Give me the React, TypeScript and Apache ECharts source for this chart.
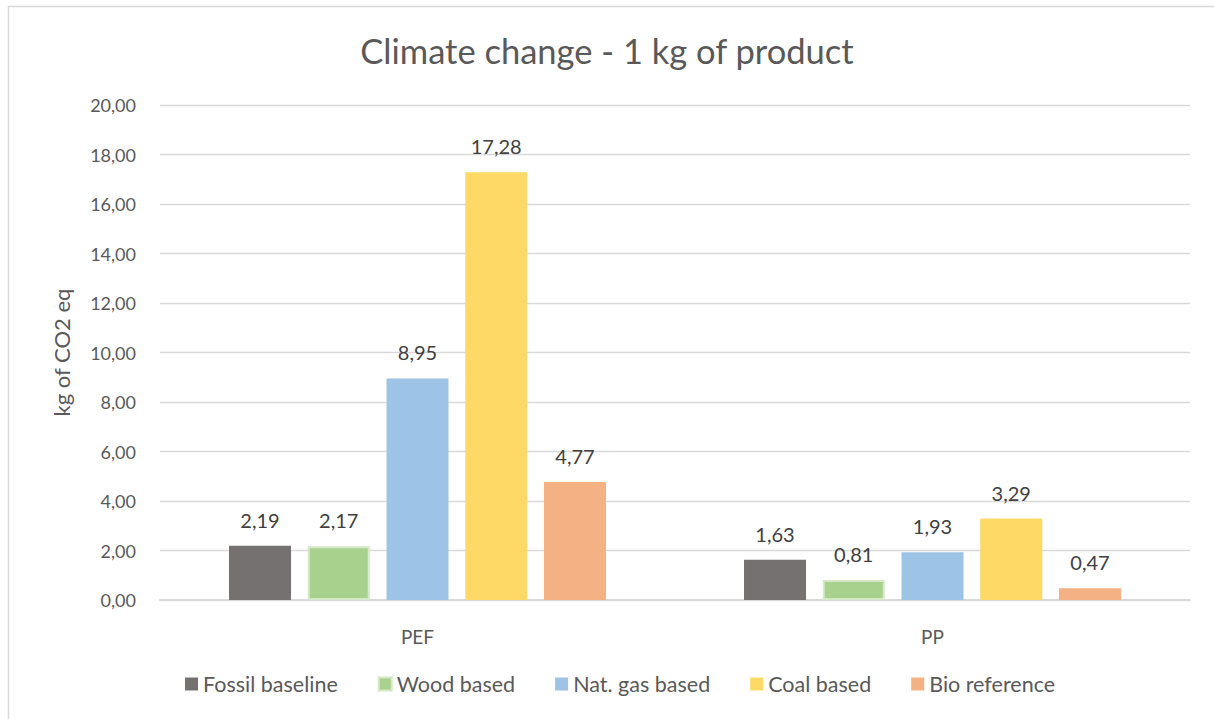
import React, { useEffect, useRef } from "react";
import * as echarts from "echarts";

const categories = ["PEF", "PP"];
const seriesNames = ["Fossil baseline", "Wood based", "Nat. gas based", "Coal based", "Bio reference"];
const fossilBaseline = [2.19, 1.63];
const woodBased = [2.17, 0.81];
const natGasBased = [8.95, 1.93];
const coalBased = [17.28, 3.29];
const bioReference = [4.77, 0.47];
const colors = ["#767171", "#A9D18E", "#9DC3E6", "#FFD966", "#F4B183"];
const borderColors = ["#767171", "#D5E8C8", "#9DC3E6", "#FFD966", "#F4B183"];

const FONT = "Lato, 'Open Sans', sans-serif";
const fmt = (v: number) => v.toFixed(2).replace(".", ",");

export default function App() {
  const ref = useRef<HTMLDivElement>(null);
  useEffect(() => {
    if (!ref.current) return;
    const chart = echarts.init(ref.current, undefined, { renderer: "svg" });
    const values = [fossilBaseline, woodBased, natGasBased, coalBased, bioReference];
    chart.setOption({
      animation: false,
      backgroundColor: "#ffffff",
      title: {
        text: "Climate change - 1 kg of product",
        left: "center",
        top: 28,
        textStyle: { fontFamily: FONT, fontSize: 34.5, fontWeight: "normal", color: "#595959" },
      },
      legend: {
        bottom: 19,
        left: 180,
        itemWidth: 13,
        itemHeight: 13,
        itemGap: 40,
        icon: "rect",
        textStyle: { fontFamily: FONT, fontSize: 21.5, color: "#595959" },
        data: seriesNames,
      },
      grid: { left: 160, right: 24, top: 105, bottom: 119, containLabel: false },
      graphic: [
        {
          type: "rect",
          shape: { x: 8.5, y: 6.5, width: 1400, height: 900 },
          style: { fill: "none", stroke: "#d9d9d9", lineWidth: 1.5 },
          silent: true,
        },
      ],
      xAxis: {
        type: "category",
        data: categories,
        axisLine: { lineStyle: { color: "#d9d9d9", width: 2 } },
        axisTick: { show: false },
        axisLabel: { fontFamily: FONT, fontSize: 19, color: "#595959", margin: 27 },
      },
      yAxis: {
        type: "value",
        min: 0,
        max: 20,
        interval: 2,
        name: "kg of CO2 eq",
        nameLocation: "middle",
        nameGap: 88,
        nameTextStyle: { fontFamily: FONT, fontSize: 22, color: "#595959" },
        axisLine: { show: false },
        axisTick: { show: false },
        axisLabel: { fontFamily: FONT, fontSize: 18, color: "#595959", margin: 24, formatter: (v: number) => fmt(v) },
        splitLine: { lineStyle: { color: "#d9d9d9", width: 1.3 } },
      },
      series: seriesNames.map((name, i) => ({
        name,
        type: "bar",
        data: values[i],
        barWidth: 62,
        barGap: "27%",
        itemStyle: { color: colors[i], borderColor: borderColors[i], borderWidth: i === 1 ? 2 : 0 },
        label: {
          show: true,
          position: "top",
          distance: 16,
          fontFamily: FONT,
          fontSize: 20,
          color: "#404040",
          formatter: (p: any) => fmt(p.value),
        },
      })),
    });
    return () => chart.dispose();
  }, []);
  return <div ref={ref} style={{ position: "absolute", left: 0, top: 0, width: 1214, height: 719 }} />;
}
